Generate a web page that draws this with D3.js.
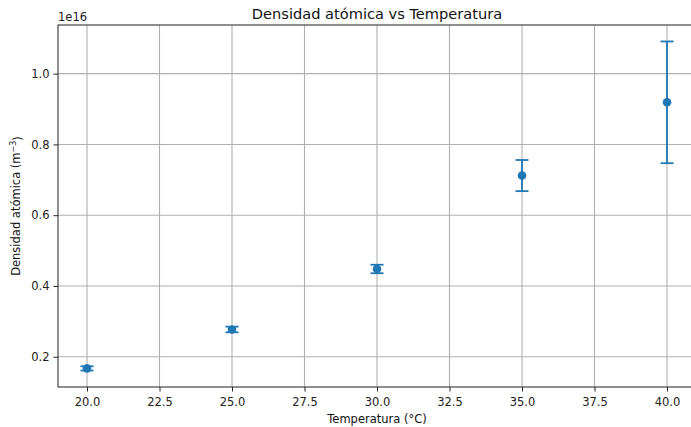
<!DOCTYPE html>
<html>
<head>
<meta charset="utf-8">
<script src="https://cdn.jsdelivr.net/npm/d3@7"></script>
<style>
  body { margin: 0; background: white; }
  svg { display: block; font-family: "DejaVu Sans", sans-serif; }
</style>
</head>
<body>
<div id="chart"></div>
<script>
const width = 691;
const height = 427;
const margin = {top: 25, right: -5, bottom: 40, left: 58};

// temperatura (°C) y densidad atómica (m^-3) con su error
const temperatura = [20, 25, 30, 35, 40];
const densidad = [1.67e15, 2.77e15, 4.48e15, 7.12e15, 9.19e15];
const errorDens = [0.06e15, 0.08e15, 0.12e15, 0.44e15, 1.72e15];
const xTicks = [20, 22.5, 25, 27.5, 30, 32.5, 35, 37.5, 40];
const yTicks = [0.2e16, 0.4e16, 0.6e16, 0.8e16, 1.0e16];

const blue = "#1f77b4";

const svg = d3.select("#chart")
    .append("svg")
    .attr("width", width)
    .attr("height", height);

const x = d3.scaleLinear()
    .domain([19, 41])
    .range([margin.left, width - margin.right]);

// 5% margin around the error bars, like matplotlib
const lo = d3.min(densidad.map((d, i) => d - errorDens[i]));
const hi = d3.max(densidad.map((d, i) => d + errorDens[i]));
const pad = (hi - lo) * 0.05;
const y = d3.scaleLinear()
    .domain([lo - pad, hi + pad])
    .range([height - margin.bottom, margin.top]);

// grid
svg.append("g")
    .selectAll("line")
    .data(xTicks)
    .enter()
    .append("line")
    .attr("x1", d => x(d)).attr("x2", d => x(d))
    .attr("y1", margin.top).attr("y2", height - margin.bottom)
    .attr("stroke", "#b0b0b0")
    .attr("stroke-width", 1.1);

svg.append("g")
    .selectAll("line")
    .data(yTicks)
    .enter()
    .append("line")
    .attr("x1", margin.left).attr("x2", width - margin.right)
    .attr("y1", d => y(d)).attr("y2", d => y(d))
    .attr("stroke", "#b0b0b0")
    .attr("stroke-width", 1.1);

// axes
const xAxis = svg.append("g")
    .attr("transform", "translate(0," + (height - margin.bottom) + ")")
    .call(d3.axisBottom(x).tickValues(xTicks).tickFormat(d3.format(".1f")).tickSizeOuter(0).tickSize(4.5).tickPadding(4));

const yAxis = svg.append("g")
    .attr("transform", "translate(" + margin.left + ",0)")
    .call(d3.axisLeft(y).tickValues(yTicks).tickFormat(d => (d / 1e16).toFixed(1)).tickSizeOuter(0).tickSize(4.5).tickPadding(4));

[xAxis, yAxis].forEach(g => {
    g.select(".domain").remove();
    g.selectAll("line").attr("stroke", "#222").attr("stroke-width", 1);
    g.selectAll("text").attr("fill", "#222").style("font-size", "11.5px").style("font-family", "DejaVu Sans");
});
xAxis.selectAll("text").attr("dy", "0.9em");

// spines (right one falls outside the picture)
svg.append("rect")
    .attr("x", margin.left)
    .attr("y", margin.top)
    .attr("width", width - margin.right - margin.left)
    .attr("height", height - margin.bottom - margin.top)
    .attr("fill", "none")
    .attr("stroke", "#333")
    .attr("stroke-width", 1.1);

// error bars
const bars = svg.append("g")
    .selectAll("g")
    .data(temperatura)
    .enter()
    .append("g");

bars.append("line")
    .attr("x1", d => x(d)).attr("x2", d => x(d))
    .attr("y1", (d, i) => y(densidad[i] - errorDens[i]))
    .attr("y2", (d, i) => y(densidad[i] + errorDens[i]))
    .attr("stroke", blue)
    .attr("stroke-width", 1.8);

[-1, 1].forEach(s => {
    bars.append("line")
        .attr("x1", d => x(d) - 6.5).attr("x2", d => x(d) + 6.5)
        .attr("y1", (d, i) => y(densidad[i] + s * errorDens[i]))
        .attr("y2", (d, i) => y(densidad[i] + s * errorDens[i]))
        .attr("stroke", blue)
        .attr("stroke-width", 1.8);
});

bars.append("circle")
    .attr("cx", d => x(d))
    .attr("cy", (d, i) => y(densidad[i]))
    .attr("r", 4.3)
    .attr("fill", blue);

// texts
svg.append("text")
    .attr("x", (margin.left + width - margin.right) / 2)
    .attr("y", 19)
    .attr("text-anchor", "middle")
    .attr("fill", "#111")
    .style("font-size", "14.6px")
    .text("Densidad atómica vs Temperatura");

svg.append("text")
    .attr("x", margin.left)
    .attr("y", 21)
    .attr("fill", "#222")
    .style("font-size", "11.5px")
    .text("1e16");

svg.append("text")
    .attr("x", (margin.left + width - margin.right) / 2)
    .attr("y", 423)
    .attr("text-anchor", "middle")
    .attr("fill", "#111")
    .style("font-size", "11.5px")
    .text("Temperatura (°C)");

const yl = svg.append("text")
    .attr("transform", "translate(20," + (margin.top + height - margin.bottom) / 2 + ") rotate(-90)")
    .attr("text-anchor", "middle")
    .attr("fill", "#111")
    .style("font-size", "11.5px");
yl.append("tspan").text("Densidad atómica (m");
yl.append("tspan").attr("dy", "-0.45em").style("font-size", "8px").text("−3");
yl.append("tspan").attr("dy", "0.45em").text(")");
</script>
</body>
</html>
